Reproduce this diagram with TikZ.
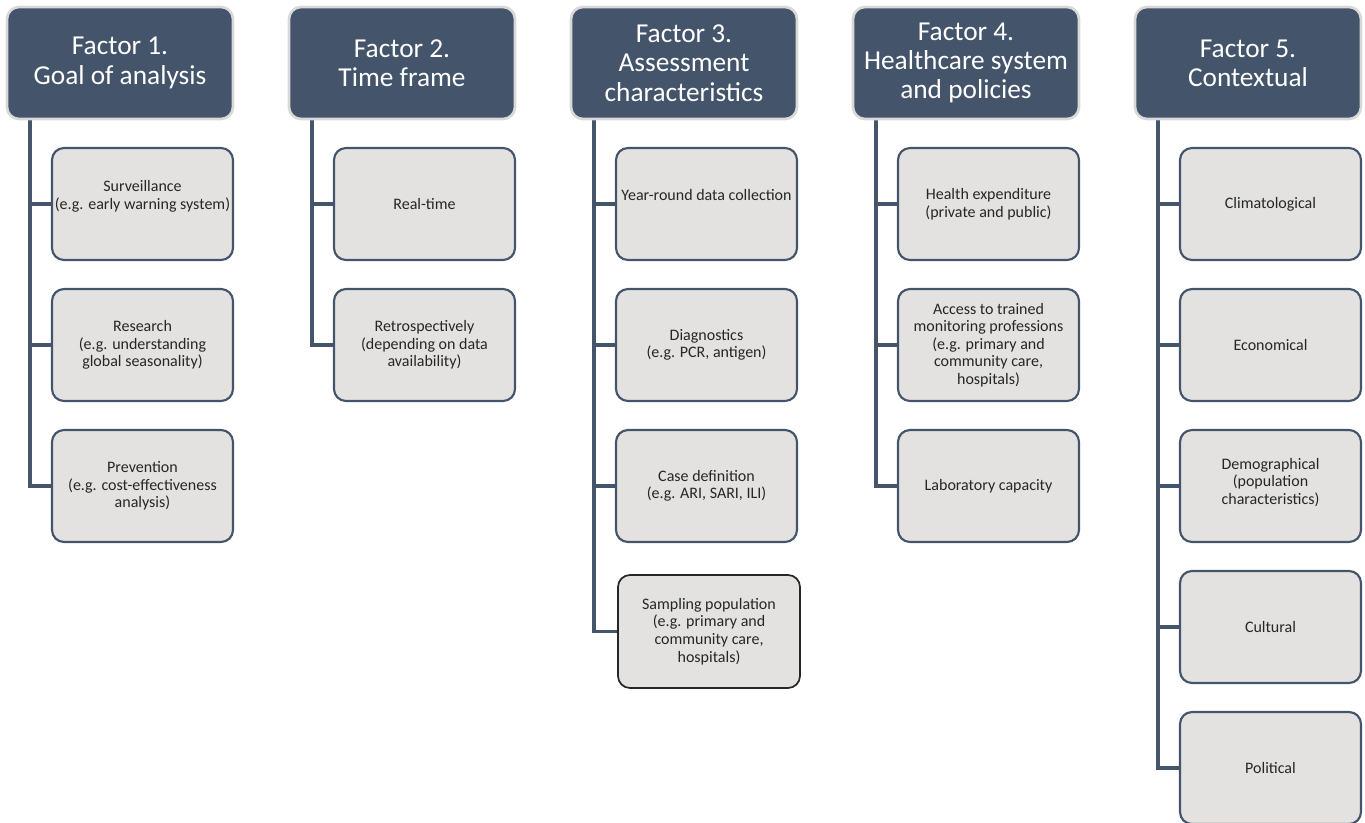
\documentclass[tikz,border=0pt]{standalone}
\usepackage{fontspec}
\setmainfont{Carlito}
\pgfdeclarelayer{bg}
\pgfsetlayers{bg,main}
\definecolor{hdrfill}{HTML}{44546A}
\definecolor{hdrline}{HTML}{D9D9D9}
\definecolor{boxfill}{HTML}{E3E2E1}
\definecolor{boxline}{HTML}{44546A}
\definecolor{txt}{HTML}{262626}
\tikzset{
  hdr/.style={draw=hdrline, line width=2pt, fill=hdrfill, rounded corners=9pt,
    minimum width=169.5pt, minimum height=84pt, inner sep=1pt, align=center,
    text=white, font=\fontsize{20.5}{22}\selectfont},
  child/.style={draw=boxline, line width=1.6pt, fill=boxfill, rounded corners=9pt,
    minimum width=135.75pt, minimum height=84pt, inner sep=0.5pt, align=center,
    text=txt, font=\fontsize{12}{13.2}\selectfont},
  childdark/.style={child, draw=black!85, line width=1.3pt, minimum width=136.5pt, minimum height=84.75pt},
  conn/.style={draw=boxline, line width=2.3pt}
}
\begin{document}
\begin{tikzpicture}[x=0.75pt,y=-0.75pt]
\useasboundingbox (0,0) rectangle (1365,822);

% Column 1
\node[hdr] (h1) at (120,63) {Factor 1.\\Goal of analysis};
\node[child] (c11) at (142.5,204) {Surveillance\\(e.g. early warning system)\\\mbox{}};
\node[child] (c12) at (142.5,345) {Research\\(e.g. understanding\\global seasonality)};
\node[child] (c13) at (142.5,486) {Prevention\\(e.g. cost-effectiveness\\analysis)};
\coordinate (t1) at (30,119);

% Column 2
\node[hdr] (h2) at (402,63) {Factor 2.\\Time frame};
\node[child] (c21) at (424.5,204) {Real-time};
\node[child] (c22) at (424.5,345) {Retrospectively\\(depending on data\\availability)};
\coordinate (t2) at (312,119);

% Column 3
\node[hdr] (h3) at (684,63) {Factor 3.\\Assessment\\characteristics};
\node[child] (c31) at (706.5,204) {Year-round data collection\\\mbox{}};
\node[child] (c32) at (706.5,345) {Diagnostics\\(e.g. PCR, antigen)};
\node[child] (c33) at (706.5,486) {Case definition\\(e.g. ARI, SARI, ILI)};
\node[childdark] (c34) at (709,631.5) {Sampling population\\(e.g. primary and\\community care,\\hospitals)};
\coordinate (t3) at (594,119);

% Column 4
\node[hdr] (h4) at (966,63) {Factor 4.\\Healthcare system\\and policies};
\node[child] (c41) at (988.5,204) {Health expenditure\\(private and public)};
\node[child] (c42) at (988.5,345) {Access to trained\\monitoring professions\\(e.g. primary and\\community care,\\hospitals)};
\node[child] (c43) at (988.5,486) {Laboratory capacity};
\coordinate (t4) at (876,119);

% Column 5
\node[hdr] (h5) at (1248,63) {Factor 5.\\Contextual};
\node[child] (c51) at (1270.5,204) {Climatological};
\node[child] (c52) at (1270.5,345) {Economical};
\node[child] (c53) at (1270.5,486) {Demographical\\(population\\characteristics)\\[-6pt]\mbox{}};
\node[child] (c54) at (1270.5,627) {Cultural};
\node[child] (c55) at (1270.5,768) {Political};
\coordinate (t5) at (1158,119);

\begin{pgfonlayer}{bg}
\draw[conn] (t1) |- (c13.west);
\draw[conn] (t1) |- (c11.west);
\draw[conn] (t1) |- (c12.west);
\draw[conn] (t2) |- (c22.west);
\draw[conn] (t2) |- (c21.west);
\draw[conn] (t3) |- (c34.west);
\draw[conn] (t3) |- (c31.west);
\draw[conn] (t3) |- (c32.west);
\draw[conn] (t3) |- (c33.west);
\draw[conn] (t4) |- (c43.west);
\draw[conn] (t4) |- (c41.west);
\draw[conn] (t4) |- (c42.west);
\draw[conn] (t5) |- (c55.west);
\draw[conn] (t5) |- (c51.west);
\draw[conn] (t5) |- (c52.west);
\draw[conn] (t5) |- (c53.west);
\draw[conn] (t5) |- (c54.west);
\end{pgfonlayer}
\end{tikzpicture}
\end{document}
